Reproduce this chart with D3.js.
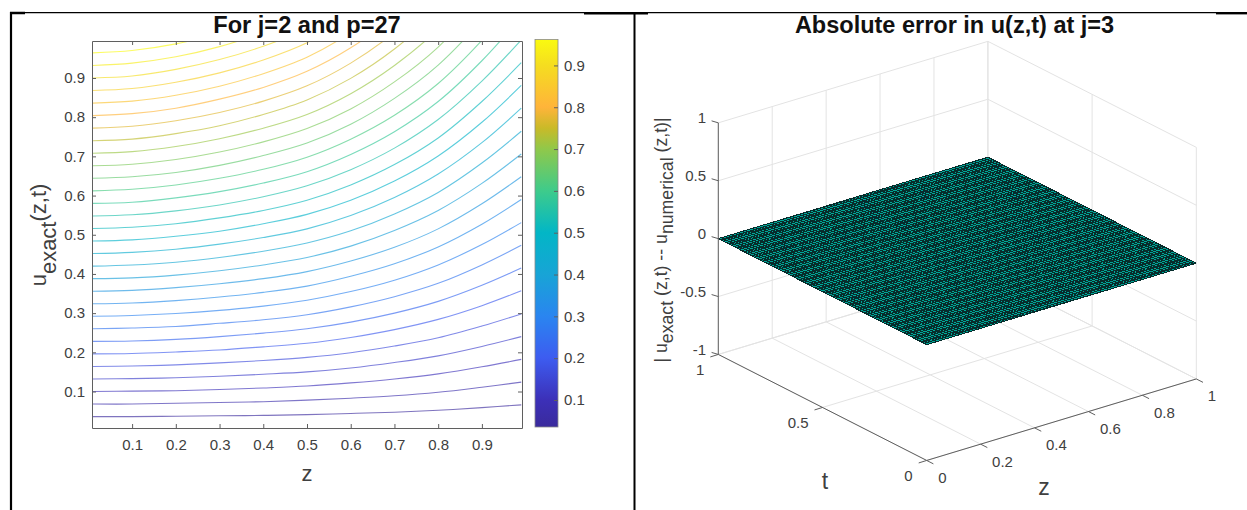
<!DOCTYPE html>
<html>
<head>
<meta charset="utf-8">
<script src="https://cdn.jsdelivr.net/npm/d3@7"></script>
<style>
  body { margin: 0; background: #fff; }
  svg { display: block; }
  text { font-family: "Liberation Sans", Arial, sans-serif; fill: #404040; }
  .title { font-weight: bold; fill: #111; }
</style>
</head>
<body>
<svg width="1247" height="510"></svg>
<script>
// left panel: stations along z, and t of each contour at those stations
const zStations = [0.01, .1, .2, .3, .4, .5, .6, .7, .8, .9, .99];
const contourRows = [
  [.036,.036,.037,.038,.039,.041,.044,.047,.052,.059,.066],
  [.068,.068,.070,.072,.074,.078,.083,.089,.098,.111,.124],
  [.100,.101,.102,.105,.109,.114,.122,.132,.145,.163,.182],
  [.132,.133,.135,.139,.144,.150,.160,.174,.191,.215,.240],
  [.164,.165,.168,.173,.179,.187,.199,.216,.237,.267,.298],
  [.196,.197,.201,.206,.214,.223,.238,.258,.284,.319,.357],
  [.228,.229,.233,.240,.249,.260,.277,.300,.330,.371,.415],
  [.260,.262,.266,.274,.283,.296,.316,.342,.376,.423,.473],
  [.292,.294,.299,.307,.318,.333,.355,.384,.423,.475,.531],
  [.324,.326,.332,.341,.353,.369,.394,.426,.469,.527,.590],
  [.356,.358,.365,.375,.388,.406,.433,.468,.515,.579,.648],
  [.388,.390,.397,.408,.423,.442,.471,.511,.562,.631,.706],
  [.420,.423,.430,.442,.458,.479,.510,.553,.608,.683,.764],
  [.452,.455,.463,.476,.493,.515,.549,.595,.655,.735,.823],
  [.484,.487,.496,.509,.528,.552,.588,.637,.701,.787,.881],
  [.516,.519,.528,.543,.562,.588,.627,.679,.747,.840,.939],
  [.548,.551,.561,.576,.597,.625,.666,.721,.794,.892,.997],
  [.580,.583,.594,.610,.632,.661,.705,.763,.840,.944,1.056],
  [.612,.616,.627,.644,.667,.698,.744,.805,.886,.996,1.114],
  [.644,.648,.659,.677,.702,.734,.782,.848,.933,1.048,1.172],
  [.676,.680,.692,.711,.737,.771,.821,.890,.979,1.100,1.230],
  [.708,.712,.725,.745,.772,.807,.860,.932,1.025,1.152,1.289],
  [.740,.744,.758,.778,.807,.844,.899,.974,1.072,1.204,1.347],
  [.772,.777,.791,.812,.841,.880,.938,1.016,1.118,1.256,1.405],
  [.804,.809,.823,.846,.876,.917,.977,1.058,1.164,1.308,1.463],
  [.836,.841,.856,.879,.911,.953,1.016,1.100,1.211,1.360,1.522],
  [.868,.873,.889,.913,.946,.990,1.055,1.142,1.257,1.412,1.580],
  [.900,.905,.922,.947,.981,1.026,1.094,1.184,1.303,1.464,1.638],
  [.932,.938,.954,.980,1.016,1.062,1.132,1.227,1.350,1.516,1.696],
  [.964,.970,.987,1.014,1.051,1.099,1.171,1.269,1.396,1.568,1.754]
];
const contourTicks = [.1,.2,.3,.4,.5,.6,.7,.8,.9];
const colorStops = [.035,.1,.2,.3,.4,.5,.6,.7,.75,.8,.9,.962];
const colorValues = ["#3a2a9c","#3c30b8","#3d5cf0","#2a85f0","#18a4d6","#02b6c6","#3ecb8b","#90c84a","#c9ba28","#ffb43a","#f5dd20","#fafa10"];

// right panel: the error surface is flat at zero
const surfaceCells = 80;
const surfaceError = 0;
const zTicks3d = [0,.2,.4,.6,.8,1];
const tTicks3d = [0,.5,1];
const wTicks3d = [-1,-.5,0,.5,1];

const svg = d3.select("svg");
const fmt = d => String(d);

// table rules around the two panels
const rules = [[10,12.7,1247,12.7,1.3],[10,13,25,13,2.5],[584,13.2,648,13.2,2.4],[1216,13.2,1247,13.2,2.4],
               [11,12,11,510,2.2],[634.5,12,634.5,510,2]];
svg.selectAll(".rule").data(rules).join("line").attr("class","rule")
  .attr("x1",d=>d[0]).attr("y1",d=>d[1]).attr("x2",d=>d[2]).attr("y2",d=>d[3])
  .attr("stroke","#000").attr("stroke-width",d=>d[4]);

// ---- left: contour plot
const x = d3.scaleLinear().domain([0.0083,0.9917]).range([92,522]);
const y = d3.scaleLinear().domain([0.0069,0.9944]).range([428,41]);
const color = d3.scaleLinear().domain(colorStops).range(colorValues);

svg.append("clipPath").attr("id","plotClip").append("rect")
  .attr("x",92).attr("y",41).attr("width",430).attr("height",387);

const contourLine = d3.line().x((d,i)=>x(zStations[i])).y(d=>y(d)).curve(d3.curveCatmullRom);
svg.append("g").attr("clip-path","url(#plotClip)")
  .selectAll("path").data(contourRows).join("path")
  .attr("d",contourLine).attr("fill","none")
  .attr("stroke",d=>color(d[0])).attr("stroke-width",1.1).attr("stroke-opacity",0.65);

const axisColor = "#5f5f5f";
const styleAxis = g => {
  g.selectAll("path").attr("stroke",axisColor);
  g.selectAll("line").attr("stroke",axisColor);
  g.selectAll("text").attr("font-size",15).style("fill","#404040");
};
svg.append("g").attr("transform","translate(0,428)")
  .call(d3.axisBottom(x).tickValues(contourTicks).tickFormat(fmt).tickSize(-4).tickSizeOuter(0).tickPadding(11))
  .call(styleAxis);
svg.append("g").attr("transform","translate(0,41)")
  .call(d3.axisTop(x).tickValues(contourTicks).tickFormat("").tickSize(-4).tickSizeOuter(0))
  .call(styleAxis);
svg.append("g").attr("transform","translate(92,0)")
  .call(d3.axisLeft(y).tickValues(contourTicks).tickFormat(fmt).tickSize(-4).tickSizeOuter(0).tickPadding(7))
  .call(styleAxis);
svg.append("g").attr("transform","translate(522,0)")
  .call(d3.axisRight(y).tickValues(contourTicks).tickFormat("").tickSize(-4).tickSizeOuter(0))
  .call(styleAxis);

// colorbar
const barScale = d3.scaleLinear().domain([.0354,.962]).range([427,39.5]);
const grad = svg.append("defs").append("linearGradient").attr("id","barGrad")
  .attr("x1",0).attr("x2",0).attr("y1",1).attr("y2",0);
grad.selectAll("stop").data(colorStops).join("stop")
  .attr("offset",d=>(d-colorStops[0])/(colorStops[colorStops.length-1]-colorStops[0]))
  .attr("stop-color",d=>color(d));
svg.append("rect").attr("x",535).attr("y",39.5).attr("width",23).attr("height",387.5)
  .attr("fill","url(#barGrad)").attr("stroke","#8a8a8a").attr("stroke-width",0.8);
svg.append("g").attr("transform","translate(558,0)")
  .call(d3.axisRight(barScale).tickValues(contourTicks).tickFormat(fmt).tickSize(-4).tickSizeOuter(0).tickPadding(6))
  .call(styleAxis)
  .call(g=>g.select("path").remove());

svg.append("text").attr("class","title").attr("x",307).attr("y",33).attr("text-anchor","middle")
  .attr("font-size",23.6).text("For j=2 and p=27");
svg.append("text").attr("x",307).attr("y",481).attr("text-anchor","middle").attr("font-size",22).text("z");

const yLabel = svg.append("text").attr("transform","translate(46,235) rotate(-90)")
  .attr("text-anchor","middle").attr("font-size",22);
yLabel.append("tspan").text("u");
yLabel.append("tspan").attr("dy",10).text("exact");
yLabel.append("tspan").attr("dy",-10).text("(z,t)");

// ---- right: 3d view, orthographic, built from three linear scales
const zToX = d3.scaleLinear().domain([0,1]).range([0,269.6]);
const zToY = d3.scaleLinear().domain([0,1]).range([0,-81.5]);
const tToX = d3.scaleLinear().domain([0,1]).range([0,-208.4]);
const tToY = d3.scaleLinear().domain([0,1]).range([0,-106]);
const wToY = d3.scaleLinear().domain([-1,1]).range([460.45,228.85]);
const px = (z,t) => 926.7 + zToX(z) + tToX(t);
const py = (z,t,w) => wToY(w) + zToY(z) + tToY(t);
const seg = (a,b) => ({x1:px(a[0],a[1]),y1:py(a[0],a[1],a[2]),x2:px(b[0],b[1]),y2:py(b[0],b[1],b[2])});
const drawSegs = (data,stroke,width) => svg.append("g").selectAll("line").data(data).join("line")
  .attr("x1",d=>d.x1).attr("y1",d=>d.y1).attr("x2",d=>d.x2).attr("y2",d=>d.y2)
  .attr("stroke",stroke).attr("stroke-width",width);

const gridSegs = [];
zTicks3d.forEach(z => {
  gridSegs.push(seg([z,0,-1],[z,1,-1]));   // floor
  gridSegs.push(seg([z,1,-1],[z,1,1]));    // back wall
});
tTicks3d.forEach(t => {
  gridSegs.push(seg([0,t,-1],[1,t,-1]));
  gridSegs.push(seg([1,t,-1],[1,t,1]));
});
wTicks3d.forEach(w => {
  gridSegs.push(seg([0,1,w],[1,1,w]));
  gridSegs.push(seg([1,1,w],[1,0,w]));
});
drawSegs(gridSegs,"#e3e3e3",1);

// surface mesh, aliased lines give the speckled look of the original
const w0 = surfaceError;
const corners = [[0,0],[1,0],[1,1],[0,1]];
svg.append("polygon")
  .attr("points",corners.map(c=>[px(c[0],c[1]),py(c[0],c[1],w0)].join(",")).join(" "))
  .attr("fill","#00a898");
const meshSegs = [];
d3.range(surfaceCells+1).forEach(i => {
  const v = i/surfaceCells;
  meshSegs.push(seg([v,0,w0],[v,1,w0]));
  meshSegs.push(seg([0,v,w0],[1,v,w0]));
});
drawSegs(meshSegs,"#072c2c",1).attr("shape-rendering","crispEdges");

// axes
const axisSegs = [seg([0,1,-1],[0,1,1]),seg([0,1,-1],[0,0,-1]),seg([0,0,-1],[1,0,-1])];
wTicks3d.forEach(w => {
  const s = seg([0,1,w],[0,1,w]);
  axisSegs.push({x1:s.x1,y1:s.y1,x2:s.x1-6.7,y2:s.y1-2});
});
zTicks3d.forEach(z => {
  const s = seg([z,0,-1],[z,0,-1]);
  axisSegs.push({x1:s.x1,y1:s.y1,x2:s.x1+6.7,y2:s.y1+3.4});
});
tTicks3d.forEach(t => {
  const s = seg([0,t,-1],[0,t,-1]);
  axisSegs.push({x1:s.x1,y1:s.y1,x2:s.x1-8,y2:s.y1+2.5});
});
drawSegs(axisSegs,axisColor,1);

const label3d = (data,fx,fy,anchor) => svg.append("g").selectAll("text").data(data).join("text")
  .attr("x",fx).attr("y",fy).attr("text-anchor",anchor).attr("font-size",15)
  .attr("dominant-baseline","central").text(fmt);
label3d(wTicks3d,()=>706,d=>py(0,1,d)-5,"end");
label3d(zTicks3d,d=>px(d,0)+11.5,d=>py(d,0,-1)+17,"start");
label3d(tTicks3d,d=>px(0,d)-14,d=>py(0,d,-1)+15.5,"end");

svg.append("text").attr("class","title").attr("x",954.5).attr("y",33).attr("text-anchor","middle")
  .attr("font-size",23.5).text("Absolute error in u(z,t) at j=3");
svg.append("text").attr("x",825).attr("y",489).attr("text-anchor","middle").attr("font-size",23).text("t");
svg.append("text").attr("x",1044).attr("y",495).attr("text-anchor","middle").attr("font-size",23).text("z");

const wLabel = svg.append("text").attr("transform","translate(666.5,240) rotate(-90)")
  .attr("text-anchor","middle").attr("font-size",17.7);
wLabel.append("tspan").text("| u");
wLabel.append("tspan").attr("dy",6).text("exact");
wLabel.append("tspan").attr("dy",-6).text(" (z,t) -- u");
wLabel.append("tspan").attr("dy",6).text("numerical");
wLabel.append("tspan").attr("dy",-6).text(" (z,t)|");
</script>
</body>
</html>
